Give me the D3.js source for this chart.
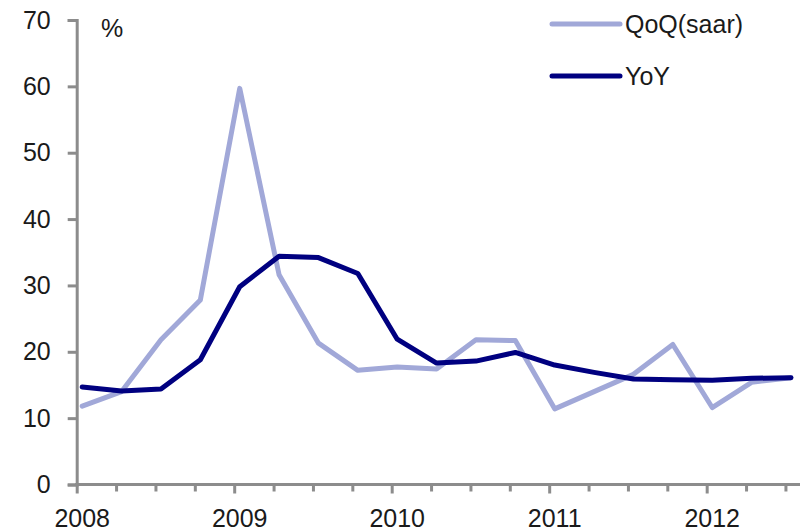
<!DOCTYPE html>
<html>
<head>
<meta charset="utf-8">
<script src="https://cdn.jsdelivr.net/npm/d3@7"></script>
<style>
  html, body { margin: 0; padding: 0; background: #fff; }
  svg { display: block; font-family: "Liberation Sans", Arial, sans-serif; }
</style>
</head>
<body>
<svg id="chart" width="802" height="532"></svg>
<script>
// Quarterly growth, 2008Q1 – 2012Q3 (%)
const quarters = ["2008Q1","2008Q2","2008Q3","2008Q4","2009Q1","2009Q2","2009Q3","2009Q4",
                  "2010Q1","2010Q2","2010Q3","2010Q4","2011Q1","2011Q2","2011Q3","2011Q4",
                  "2012Q1","2012Q2","2012Q3"];
const qoqSaar = [11.8, 14.0, 21.8, 27.8, 59.7, 31.6, 21.3, 17.2, 17.7, 17.4, 21.8, 21.7,
                 11.4, 14.0, 16.6, 21.1, 11.6, 15.4, 16.1];
const yoy     = [14.7, 14.1, 14.4, 18.8, 29.8, 34.4, 34.2, 31.8, 21.9, 18.3, 18.6, 19.9,
                 18.0, 16.9, 15.9, 15.8, 15.7, 16.0, 16.1];
const yearLabels = ["2008", "2009", "2010", "2011", "2012"];
const yTicks = [0, 10, 20, 30, 40, 50, 60, 70];
const seriesNames = ["QoQ(saar)", "YoY"];

const svg = d3.select("#chart");
const axisColor = "#8c8c8c";
const textColor = "#1a1a1a";
const colors = { "QoQ(saar)": "#a1a8d8", "YoY": "#000080" };

// x domain in quarters from the start of 2008; each observation sits a little past its quarter's tick
const pointOffset = 0.14;
const x = d3.scaleLinear().domain([0, 18.37]).range([76.7, 800]);
const y = d3.scaleLinear().domain([0, 70]).range([484.5, 20]);

// y axis
const yAxis = d3.axisLeft(y).tickValues(yTicks).tickSize(9).tickPadding(17);
const gy = svg.append("g").attr("transform", `translate(${x(0)},0)`).call(yAxis);
gy.select(".domain").attr("stroke", axisColor).attr("stroke-width", 3);
gy.selectAll(".tick line").attr("stroke", axisColor).attr("stroke-width", 3);
gy.selectAll(".tick text").attr("fill", textColor).style("font-size", "25px");

// x axis: a tick at every quarter start, year labels under each first quarter
const quarterTicks = d3.range(0, quarters.length);
const xAxis = d3.axisBottom(x).tickValues(quarterTicks).tickSize(7).tickFormat("");
const gx = svg.append("g").attr("transform", `translate(0,${y(0)})`).call(xAxis);
gx.select(".domain").attr("stroke", axisColor).attr("stroke-width", 3)
  .attr("d", `M${x(0) - 1.5},0H${x.range()[1]}`);
gx.selectAll(".tick line").attr("stroke", axisColor).attr("stroke-width", 3)
  .attr("y2", d => d % 4 === 0 ? 9 : 7);

svg.append("g").selectAll("text")
  .data(yearLabels)
  .join("text")
  .attr("x", (d, i) => x(i * 4 + pointOffset))
  .attr("y", 527)
  .attr("text-anchor", "middle")
  .attr("fill", textColor)
  .style("font-size", "25px")
  .text(d => d);

// unit label
svg.append("text")
  .attr("x", 101).attr("y", 37)
  .attr("fill", textColor)
  .style("font-size", "25px")
  .text("%");

// series lines
const line = d3.line()
  .x((d, i) => x(i + pointOffset))
  .y(d => y(d));

const series = [
  { name: "QoQ(saar)", values: qoqSaar },
  { name: "YoY", values: yoy }
];

svg.append("g").selectAll("path")
  .data(series)
  .join("path")
  .attr("d", d => line(d.values))
  .attr("fill", "none")
  .attr("stroke", d => colors[d.name])
  .attr("stroke-width", 5)
  .attr("stroke-linejoin", "round")
  .attr("stroke-linecap", "round");

// legend
const legend = svg.append("g").selectAll("g")
  .data(seriesNames)
  .join("g")
  .attr("transform", (d, i) => `translate(552,${24 + i * 52})`);
legend.append("line")
  .attr("x1", 0).attr("x2", 68)
  .attr("stroke", d => colors[d])
  .attr("stroke-width", 5)
  .attr("stroke-linecap", "round");
legend.append("text")
  .attr("x", 73).attr("y", 9)
  .attr("fill", textColor)
  .style("font-size", "25px")
  .text(d => d);
</script>
</body>
</html>
